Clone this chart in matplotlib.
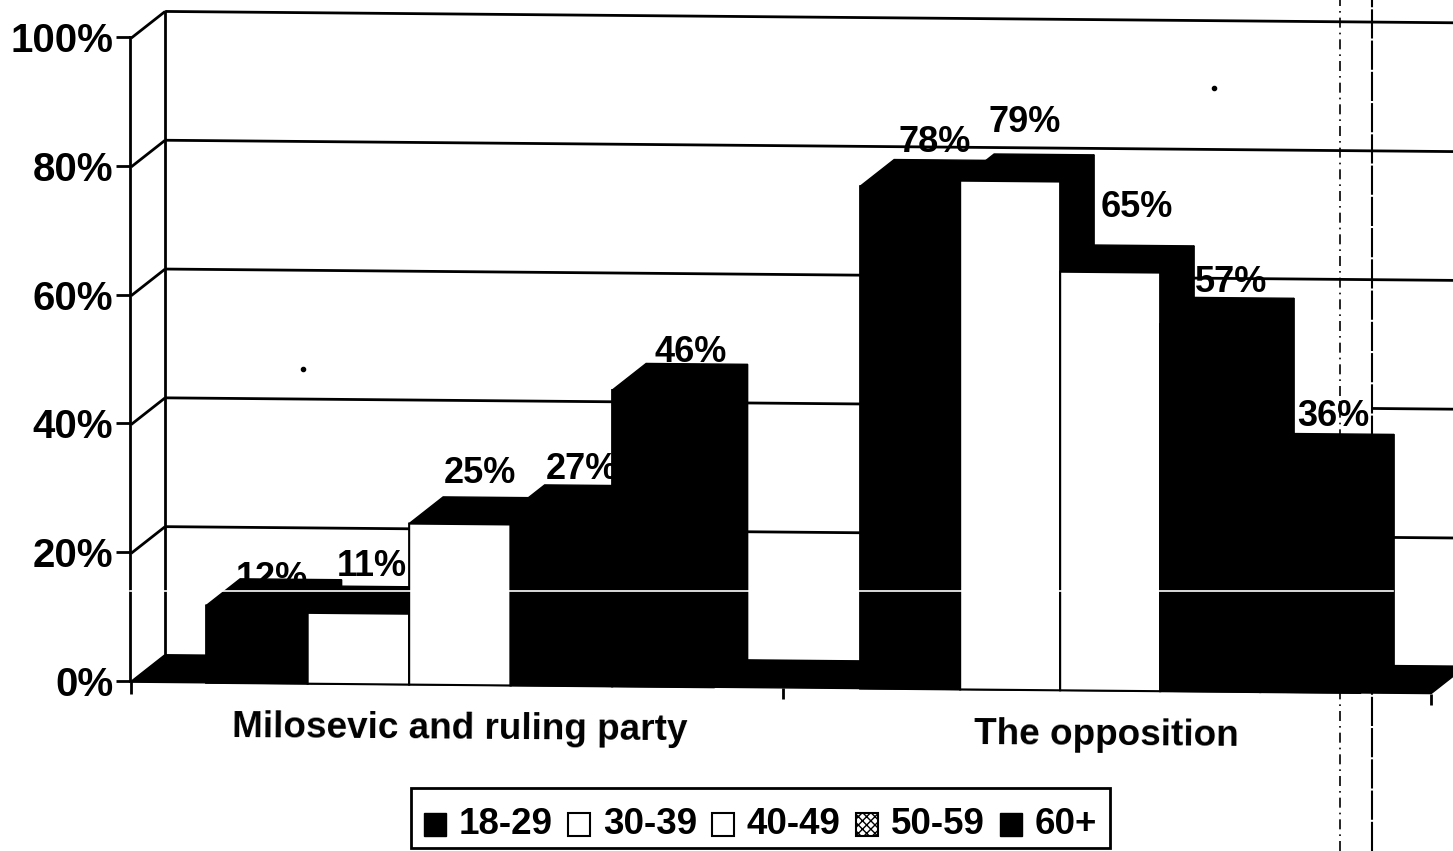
import matplotlib
matplotlib.use("Agg")
import matplotlib.pyplot as plt
from matplotlib.patches import Patch
from matplotlib.transforms import Affine2D

plt.rcParams['font.family'] = ['Liberation Sans', 'DejaVu Sans']
plt.rcParams['font.weight'] = 'bold'

categories = ["Milosevic and ruling party", "The opposition"]
series = ["18-29", "30-39", "40-49", "50-59", "60+"]
milosevic = [12, 11, 25, 27, 46]
opposition = [78, 79, 65, 57, 36]
yticks = [0, 20, 40, 60, 80, 100]
ylabels = ["0%", "20%", "40%", "60%", "80%", "100%"]

colors = ['black', 'white', 'white', 'black', 'black']

# label nudges in pixels, from the front bar centre
nudge_x = [[15, 13, 20, 21, 28], [25, 15, 27, 21, 23]]
nudge_y = [[105, 118, 212, 217, 335], [547, 568, 483, 409, 276]]
boxed = [[False, True, False, False, False], [False, False, False, False, True]]

fig = plt.figure(figsize=(14.53, 8.51), dpi=100)
ax = fig.add_axes([130 / 1453, (851 - 681) / 851, 1300 / 1453, 644 / 851])
ax.set_xlim(0, 2)
ax.set_ylim(0, 100)
ax.patch.set_visible(False)

px_x = 1 / 650
px_y = 100 / 644
depth_x = 34 * px_x
depth_y = 27 * px_y
bar_w = [101.5 * px_x, 100 * px_x]
starts = [75 * px_x, 729 * px_x]

# scan is tilted a bit, everything in the plot goes down to the right
slope = -0.0088
tilt = Affine2D.from_values(1, slope, 0, 1, -slope * 130, 0)
skew = ax.transData + tilt


def line(xs, ys, **kw):
    kw.setdefault('color', 'black')
    kw.setdefault('lw', 2)
    kw.setdefault('zorder', 1)
    kw.setdefault('solid_capstyle', 'butt')
    ax.plot(xs, ys, transform=skew, clip_on=False, **kw)


# walls
for v in yticks:
    line([depth_x, 2 + depth_x], [v + depth_y, v + depth_y])
    line([0, depth_x], [v, v + depth_y])
line([depth_x, depth_x], [depth_y, 100 + depth_y])

# floor
ax.fill([0, 2, 2 + depth_x, depth_x], [0, 0, depth_y, depth_y], color='black',
        transform=skew, clip_on=False, zorder=1.5)

# scanner lines on the page
ax.plot([1.862, 1.862], [-26.4, 105.7], color='black', lw=1.2, ls=(0, (6, 3, 1, 3)),
        clip_on=False, zorder=2.5)
ax.plot([1.911, 1.911], [-26.4, 105.7], color='black', lw=1.5, ls=(0, (14, 1)),
        clip_on=False, zorder=2.5)

# labels go first so the bars cover them
for g, vals in enumerate([milosevic, opposition]):
    for i, v in enumerate(vals):
        x = starts[g] + i * bar_w[g] + bar_w[g] / 2 + nudge_x[g][i] * px_x
        y = nudge_y[g][i] * px_y
        t = ax.text(x, y, str(v) + "%", fontsize=26, ha='center', va='center',
                    transform=skew, zorder=2, clip_on=False)
        if boxed[g][i]:
            t.set_bbox(dict(facecolor='white', edgecolor='none', pad=2))

# bars, left to right so each one hides the side of the one before
z = 3
for g, vals in enumerate([milosevic, opposition]):
    w = bar_w[g]
    for i, v in enumerate(vals):
        left = starts[g] + i * w
        ax.fill([left + w, left + w + depth_x, left + w + depth_x, left + w],
                [0, depth_y, v + depth_y, v], color='black', transform=skew,
                clip_on=False, zorder=z)
        ax.fill([left, left + w, left + w + depth_x, left + depth_x],
                [v, v, v + depth_y, v + depth_y], color='black', transform=skew,
                clip_on=False, zorder=z)
        ax.bar(left, v, w, align='edge', color=colors[i], edgecolor='black', lw=1.5,
               transform=skew, clip_on=False, zorder=z + 0.5)
        z += 1

# white scan streak
ax.plot([0, 1.943], [14, 14], color='white', lw=1.2, clip_on=False, zorder=30)

# specks
ax.plot([1.667, 0.266], [92.1, 48.4], 'o', color='black', ms=3, clip_on=False, zorder=2)

# axes
for s in ['top', 'right', 'bottom']:
    ax.spines[s].set_visible(False)
ax.spines['left'].set_linewidth(2)
ax.spines['left'].set_zorder(2)
ax.set_yticks(yticks)
ax.set_yticklabels(ylabels, fontsize=29)
ax.tick_params(axis='y', length=10, width=2, pad=2)
ax.set_xticks([])

for p in [0, 1.003, 2]:
    line([p, p], [0, -1.8], zorder=30)

ax.text(0.505, -6.9, categories[0], fontsize=26.6, ha='center', va='center',
        rotation=-0.4, transform=skew, clip_on=False)
ax.text(1.5, -7, categories[1], fontsize=26.6, ha='center', va='center',
        rotation=-0.4, transform=skew, clip_on=False)

handles = [Patch(facecolor='black', edgecolor='black'),
           Patch(facecolor='white', edgecolor='black', lw=1.5),
           Patch(facecolor='white', edgecolor='black', lw=1.5),
           Patch(facecolor='white', edgecolor='black', hatch='xxxx', lw=1.5),
           Patch(facecolor='black', edgecolor='black')]
leg = fig.legend(handles, series, ncol=5, loc='center', bbox_to_anchor=(760.5 / 1453, (851 - 818) / 851),
                 fontsize=26.5, frameon=True, fancybox=False, framealpha=1, edgecolor='black',
                 handlelength=0.6, handleheight=0.6, handletextpad=0.35, columnspacing=0.41,
                 borderpad=0.35, borderaxespad=0)
leg.get_frame().set_linewidth(2)
# text sits low in the box on the original
for t in leg.get_texts():
    t.set_y(-7)
for h in leg.legend_handles:
    h.set_y(h.get_y() - 7)

fig.savefig("out.png", dpi=100)
